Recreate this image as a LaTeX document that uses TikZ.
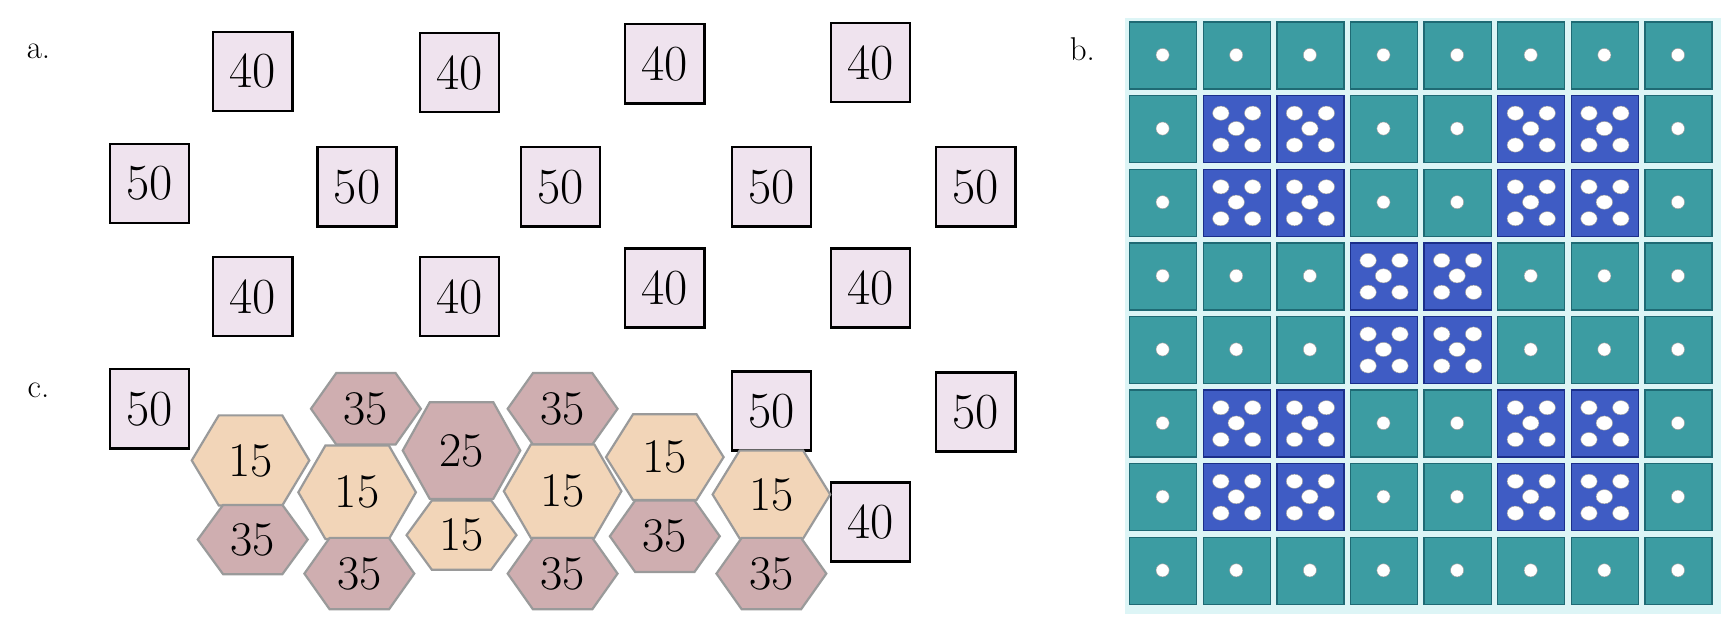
\documentclass[tikz,border=0pt]{standalone}
\usetikzlibrary{calc}
\definecolor{boxf}{HTML}{EFE3EE}
\definecolor{beige}{HTML}{F2D5B8}
\definecolor{mauve}{HTML}{CFAEB0}
\definecolor{hexb}{HTML}{9A9A9A}
\definecolor{teal}{HTML}{3C9CA2}
\definecolor{tealb}{HTML}{1F6A74}
\definecolor{blu}{HTML}{3F5CC4}
\definecolor{blub}{HTML}{1B2F8A}
\definecolor{gridbg}{HTML}{DDF5F6}
\tikzset{
 sq/.style={draw=black,line width=2.2pt,fill=boxf,minimum width=72pt,minimum height=72pt,inner sep=0pt,font=\fontsize{46}{46}\selectfont},
 lbl/.style={font=\fontsize{30}{30}\selectfont,anchor=center},
 hx/.style={font=\fontsize{44}{44}\selectfont,inner sep=0pt},
 cell/.style={draw=tealb,line width=1.2pt,fill=teal},
 bcell/.style={draw=blub,line width=1.2pt,fill=blu},
 dot/.style={fill=white,draw=black!40,line width=0.4pt}
}
% \hexa{name}{cx}{cy}{w}{h}{fill}{text}
\newcommand{\hexa}[7]{%
 \fill[#6,draw=hexb,line width=2pt] (#2-#4/2,#3) -- (#2-#4*0.27,#3-#5/2) -- (#2+#4*0.27,#3-#5/2) -- (#2+#4/2,#3) -- (#2+#4*0.27,#3+#5/2) -- (#2-#4*0.27,#3+#5/2) -- cycle;
 \node[hx] (#1) at (#2,#3) {#7};}
\begin{document}
\begin{tikzpicture}[x=1pt,y=-1pt]
\useasboundingbox (0,0) rectangle (1568,568);
\fill[white] (0,0) rectangle (1568,568);
\node[lbl] (la) at (35,47) {a.};
\node[lbl] (lb) at (985,45) {b.};
\node[lbl] (lc) at (35,355) {c.};
% squares
\node[sq] (s1) at (230,65) {40};
\node[sq] (s2) at (418,66) {40};
\node[sq] (s3) at (605,58) {40};
\node[sq] (s4) at (792,57) {40};
\node[sq] (s5) at (136,167) {50};
\node[sq] (s6) at (325,170) {50};
\node[sq] (s7) at (510,170) {50};
\node[sq] (s8) at (702,170) {50};
\node[sq] (s9) at (888,170) {50};
\node[sq] (s10) at (230,270) {40};
\node[sq] (s11) at (418,270) {40};
\node[sq] (s12) at (605,262) {40};
\node[sq] (s13) at (792,262) {40};
\node[sq] (s14) at (136,372) {50};
\node[sq] (s15) at (702,374) {50};
\node[sq] (s16) at (888,375) {50};
\node[sq] (s17) at (792,475) {40};
% hexagons
\hexa{h1}{228}{419}{107}{82}{beige}{15}
\hexa{h2}{230}{491}{100}{63}{mauve}{35}
\hexa{h3}{333}{372}{100}{65}{mauve}{35}
\hexa{h4}{325}{448}{107}{85}{beige}{15}
\hexa{h5}{327}{522}{100}{65}{mauve}{35}
\hexa{h6}{420}{410}{107}{88}{mauve}{25}
\hexa{h7}{420}{487}{100}{63}{beige}{15}
\hexa{h8}{512}{372}{100}{65}{mauve}{35}
\hexa{h9}{512}{447}{107}{85}{beige}{15}
\hexa{h10}{512}{522}{100}{65}{mauve}{35}
\hexa{h11}{605}{416}{107}{78}{beige}{15}
\hexa{h12}{605}{488}{100}{65}{mauve}{35}
\hexa{h13}{702}{450}{107}{80}{beige}{15}
\hexa{h14}{702}{522}{100}{65}{mauve}{35}
% grid b
\fill[gridbg] (1024,16) rectangle (1566,559);
\foreach \r in {0,...,7}{
 \foreach \c in {0,...,7}{
  \pgfmathsetmacro{\xx}{1028+67*\c}
  \pgfmathsetmacro{\yy}{20+67*\r}
  \def\blue{0}
  \ifnum\r>0\ifnum\r<3\ifnum\c>0\ifnum\c<3\def\blue{1}\fi\fi\ifnum\c>4\ifnum\c<7\def\blue{1}\fi\fi\fi\fi
  \ifnum\r>4\ifnum\r<7\ifnum\c>0\ifnum\c<3\def\blue{1}\fi\fi\ifnum\c>4\ifnum\c<7\def\blue{1}\fi\fi\fi\fi
  \ifnum\r>2\ifnum\r<5\ifnum\c>2\ifnum\c<5\def\blue{1}\fi\fi\fi\fi
  \ifnum\blue=1
   \draw[bcell] (\xx,\yy) rectangle ++(61,61);
   \foreach \dx/\dy in {16/16,45/16,30/30,16/45,45/45}
     \fill[dot] (\xx+\dx,\yy+\dy) ellipse [x radius=7.5, y radius=6.5];
  \else
   \draw[cell] (\xx,\yy) rectangle ++(61,61);
   \fill[dot] (\xx+30,\yy+30) circle [radius=6];
  \fi
 }}
\end{tikzpicture}
\end{document}
